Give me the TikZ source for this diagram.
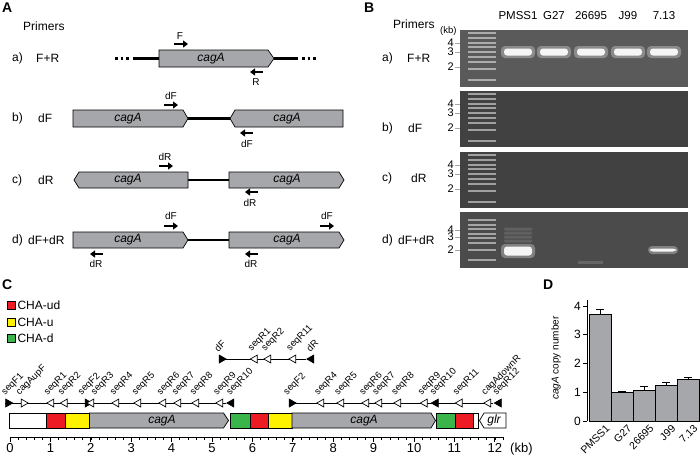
\documentclass[tikz,border=0pt]{standalone}
\usepackage{fontspec}
\setmainfont{Liberation Sans}
\usetikzlibrary{arrows.meta,positioning,shapes.geometric,backgrounds}
\definecolor{genegray}{HTML}{A5A7AA}
\definecolor{chared}{HTML}{ED1C24}
\definecolor{chayellow}{HTML}{FFF200}
\definecolor{chagreen}{HTML}{39B54A}
\definecolor{gelA}{HTML}{5A5A5A}
\definecolor{gelB}{HTML}{414141}
\definecolor{gelD}{HTML}{4B4B4B}

\begin{document}
\begin{tikzpicture}[
    x=1pt, y=-1pt,
    font=\fontsize{12}{14}\selectfont,
    panel/.style={font=\fontsize{14}{16}\selectfont\bfseries, inner sep=0, anchor=west},
    lbl/.style={inner sep=0, anchor=west},
    gene/.style={draw, fill=genegray, line width=0.7pt},
    gname/.style={font=\fontsize{12}{14}\selectfont\itshape, inner sep=0},
    link/.style={line width=2.2pt},
    dots/.style={line width=2.2pt, dash pattern=on 2.5pt off 3pt},
    primer/.style={line width=1.8pt, -{Triangle[length=5pt,width=7pt]}},
    pname/.style={font=\fontsize{10}{12}\selectfont, inner sep=0},
    ladder/.style={fill=white, opacity=0.5},
    glow/.style={fill=white, opacity=0.3, rounded corners=4pt},
    band/.style={fill=white, opacity=0.92, rounded corners=3pt},
    seg/.style={draw, line width=0.7pt},
    tri/.style={isosceles triangle, isosceles triangle stretches, draw, line width=0.7pt, inner sep=0, minimum width=8pt, minimum height=7pt},
    fwd/.style={tri, fill=black},
    fwdo/.style={tri, fill=white},
    rev/.style={tri, fill=white, shape border rotate=180},
    revf/.style={tri, fill=black, shape border rotate=180},
    seqlbl/.style={font=\fontsize{9.5}{11}\selectfont, inner sep=0, rotate=45, anchor=south west},
    bar/.style={draw, fill=genegray, line width=0.8pt}
  ]

  \useasboundingbox (0,0) rectangle (700,456);

  % ---------------- panel A ----------------
  \node[panel] (A) at (2,8) {A};
  \node[lbl] (primA) at (23,26) {Primers};
  \node[lbl] (Aa) at (12,58.5) {a)};   \node[lbl] (AaP) at (36,58.5) {F+R};
  \node[lbl] (Ab) at (12,118.5) {b)};  \node[lbl] (AbP) at (38,118.5) {dF};
  \node[lbl] (Ac) at (12,180) {c)};    \node[lbl] (AcP) at (38,180) {dR};
  \node[lbl] (Ad) at (12,240) {d)};    \node[lbl] (AdP) at (28,240) {dF+dR};

  % a) F+R
  \draw[dots] (115,58.5) -- (131,58.5);
  \draw[link] (133,58.5) -- (159,58.5);
  \draw[link] (274,58.5) -- (298,58.5);
  \draw[dots] (302,58.5) -- (318,58.5);
  \draw[gene] (159,50) -- (268,50) -- (274,58.5) -- (268,67) -- (159,67) -- cycle;
  \node[gname] (ga) at (211,58.5) {cagA};
  \draw[primer] (174,44) -- (188,44);
  \node[pname] (pF) at (180,36) {F};
  \draw[primer] (263,72) -- (250,72);
  \node[pname] (pR) at (256,82) {R};

  % b) dF
  \draw[link] (186,118.5) -- (232,118.5);
  \draw[gene] (73,110) -- (183,110) -- (188,118.5) -- (183,127) -- (73,127) -- cycle;
  \draw[gene] (235,110) -- (343,110) -- (343,127) -- (235,127) -- (230,118.5) -- cycle;
  \node[gname] (gb1) at (128,118.5) {cagA};
  \node[gname] (gb2) at (287,118.5) {cagA};
  \draw[primer] (164,105) -- (178,105);
  \node[pname] (pb1) at (171,96) {dF};
  \draw[primer] (253,133) -- (240,133);
  \node[pname] (pb2) at (247,144) {dF};

  % c) dR
  \draw[link] (188,180) -- (229,180);
  \draw[gene] (79,172) -- (188,172) -- (188,188) -- (79,188) -- (74,180) -- cycle;
  \draw[gene] (229,172) -- (339,172) -- (344,180) -- (339,188) -- (229,188) -- cycle;
  \node[gname] (gc1) at (128,180) {cagA};
  \node[gname] (gc2) at (287,180) {cagA};
  \draw[primer] (159,166) -- (173,166);
  \node[pname] (pc1) at (165,157) {dR};
  \draw[primer] (258,192) -- (245,192);
  \node[pname] (pc2) at (250,203) {dR};

  % d) dF+dR
  \draw[link] (188,240) -- (229,240);
  \draw[gene] (73,232) -- (183,232) -- (188,240) -- (183,248) -- (73,248) -- cycle;
  \draw[gene] (229,232) -- (339,232) -- (344,240) -- (339,248) -- (229,248) -- cycle;
  \node[gname] (gd1) at (128,240) {cagA};
  \node[gname] (gd2) at (287,240) {cagA};
  \draw[primer] (164,226) -- (178,226);
  \node[pname] (pd1) at (171,216) {dF};
  \draw[primer] (320,226) -- (334,226);
  \node[pname] (pd2) at (327,216) {dF};
  \draw[primer] (103,254) -- (90,254);
  \node[pname] (pd3) at (96,264) {dR};
  \draw[primer] (258,254) -- (245,254);
  \node[pname] (pd4) at (251,264) {dR};

  % ---------------- panel B ----------------
  \node[panel] (B) at (364,8) {B};
  \node[lbl] (primB) at (393,24) {Primers};
  \node[lbl, font=\fontsize{9.5}{11}\selectfont] (kbB) at (440,31) {(kb)};
  \node[lbl] (Ba) at (382,58) {a)};   \node[lbl] (BaP) at (407,58) {F+R};
  \node[lbl] (Bb) at (382,128) {b)};  \node[lbl] (BbP) at (408,128) {dF};
  \node[lbl] (Bc) at (382,178) {c)};  \node[lbl] (BcP) at (411,178) {dR};
  \node[lbl] (Bd) at (382,240) {d)};  \node[lbl] (BdP) at (398,240) {dF+dR};
  \foreach \cx/\n [count=\i] in {518/PMSS1,554/G27,591/26695,628/J99,664/7.13}
    \node[font=\fontsize{11.5}{13}\selectfont] (lane\i) at (\cx,16) {\n};

  % gels
  \fill[gelA] (460,30) rectangle (688,87);
  \fill[gelB] (460,91) rectangle (688,147);
  \fill[gelB] (460,152) rectangle (688,208);
  \fill[gelD] (460,212) rectangle (688,268);
  \foreach \top in {30,91,152}
    \foreach \o in {3,8,13,17,22,27,32,39,50}
      \fill[ladder] (468,{\top+\o-1.2}) rectangle (496,{\top+\o+1.2});
  \foreach \o in {8,13,17,22,26,31,38,48}
    \fill[ladder] (468,{212+\o-1.2}) rectangle (496,{212+\o+1.2});

  % size marks
  \foreach \y/\t in {43/4,52/3,67/2, 104/4,113/3,128/2, 165/4,174/3,189/2, 230/4,237/3,250/2} {
    \draw[gray!70, line width=0.6pt] (455,\y) -- (460,\y);
    \node[anchor=east, inner sep=0, font=\fontsize{11}{12}\selectfont] at (454,\y) {\t};
  }

  % bands
  \foreach \cx in {518,554,591,628,664} {
    \fill[glow] (\cx-17,46) rectangle (\cx+17,58);
    \fill[band] (\cx-14,48.5) rectangle (\cx+14,55.5);
  }
  \foreach \y in {229,233,237,241}
    \fill[white, opacity=0.12, rounded corners=1pt] (504,\y-1.5) rectangle (532,\y+1.5);
  \fill[glow] (501,244) rectangle (535,258);
  \fill[band] (504,246.5) rectangle (532,255.5);
  \fill[glow] (648,246) rectangle (678,254);
  \fill[band] (650,248.5) rectangle (676,251.5);
  \fill[white, opacity=0.15] (578,260.5) rectangle (603,263.5);

  % ---------------- panel C ----------------
  \node[panel] (C) at (2,285) {C};
  \node[seg, fill=chared, minimum size=8pt, inner sep=0] (kud) at (11,305.5) {};
  \node[lbl, right=2pt of kud] (tud) {CHA-ud};
  \node[seg, fill=chayellow, minimum size=8pt, inner sep=0] (ku) at (11,322) {};
  \node[lbl, right=2pt of ku] (tu) {CHA-u};
  \node[seg, fill=chagreen, minimum size=8pt, inner sep=0] (kd) at (11,338) {};
  \node[lbl, right=2pt of kd] (td) {CHA-d};

  % locus
  \draw[seg, fill=white] (9.5,413) rectangle (46.4,428);
  \draw[seg, fill=chared] (46.4,413) rectangle (65.8,428);
  \draw[seg, fill=chayellow] (65.8,413) rectangle (89.5,428);
  \draw[gene] (89.5,413) -- (223.5,413) -- (228.5,420.5) -- (223.5,428) -- (89.5,428) -- cycle;
  \node[gname] (gC1) at (162,420.5) {cagA};
  \draw[seg, fill=chagreen] (230.5,413) rectangle (250,428);
  \draw[seg, fill=chared] (250,413) rectangle (268.5,428);
  \draw[seg, fill=chayellow] (268.5,413) rectangle (292,428);
  \draw[gene] (292,413) -- (431,413) -- (435.5,420.5) -- (431,428) -- (292,428) -- cycle;
  \node[gname] (gC2) at (364,420.5) {cagA};
  \draw[seg, fill=chagreen] (436,413) rectangle (455,428);
  \draw[seg, fill=chared] (455,413) rectangle (473,428);
  \draw[seg, fill=white] (473,413) rectangle (478,428);
  \draw[seg, fill=white] (484,413) -- (506,413) -- (506,428) -- (484,428) -- (479.5,420.5) -- cycle;
  \node[gname] (glr) at (494,420.5) {glr};

  % primers on the locus
  \foreach \x/\n/\t/\dx in {8/seqF1/fwd/-1.5, 23.5/cagAupF/fwdo/-2.5, 51.5/seqR1/rev/-2.5, 65/seqR2/rev/-2,
      87.5/seqF2/fwd/-4.5, 91.5/seqR3/rev/4.5, 116.5/seqR4/rev/-1.5, 138.5/seqR5/rev/-1.5,
      163.5/seqR6/rev/-1.5, 178.5/seqR7/rev/-1.5, 196.5/seqR8/rev/-1.5, 220.5/seqR9/rev/-2, 231.5/seqR10/revf/0} {
    \node[\t] (r1-\n) at (\x,403) {};
    \node[seqlbl] at (\x+\dx,397) {\n};
  }
  \foreach \x/\n/\t/\dx in {221.5/dF/fwd/-3, 255/seqR1/rev/-2, 268.5/seqR2/rev/-2, 293.5/seqR11/rev/-2, 311.5/dR/revf/-1} {
    \node[\t] (r2-\n) at (\x,359) {};
    \node[seqlbl] at (\x+\dx,353) {\n};
  }
  \foreach \x/\n/\t/\dx in {291.5/seqF2/fwd/-3, 321.5/seqR4/rev/-2, 341.5/seqR5/rev/-2, 366.5/seqR6/rev/-2,
      379.5/seqR7/rev/-2, 398.5/seqR8/rev/-2, 425/seqR9/rev/-2, 436/seqR10/revf/-1, 460/seqR11/rev/-2,
      488.5/cagAdownR/rev/-2, 499/seqR12/revf/-1} {
    \node[\t] (r3-\n) at (\x,403) {};
    \node[seqlbl] at (\x+\dx,397) {\n};
  }
  \begin{scope}[on background layer]
    \draw[line width=0.8pt] (r1-seqF1.west) -- (r1-seqR10.west);
    \draw[line width=0.8pt] (r2-dF.west) -- (r2-dR.west);
    \draw[line width=0.8pt] (r3-seqF2.west) -- (r3-seqR12.west);
  \end{scope}

  % kb scale
  \draw[line width=0.7pt] (10,437) -- (504,437);
  \foreach \k in {0,...,61}
    \draw[line width=0.5pt] ({10+8.08*\k},437) -- ({10+8.08*\k},440);
  \foreach \k in {0,...,12} {
    \draw[line width=0.7pt] ({10+40.4*\k},437) -- ({10+40.4*\k},442);
    \node[font=\fontsize{13}{15}\selectfont, anchor=north, inner sep=0] (kb\k) at ({10+40.4*\k},443) {\k};
  }
  \node[lbl, font=\fontsize{13}{15}\selectfont, anchor=north west] (kbC) at (510,443) {(kb)};

  % ---------------- panel D ----------------
  \node[panel] (D) at (543,285) {D};
  \draw[line width=0.8pt] (587,300) -- (587,421);
  \foreach \v in {0,...,4} {
    \draw[line width=0.8pt] (583,{421-28.75*\v}) -- (587,{421-28.75*\v});
    \node[anchor=east, inner sep=0, font=\fontsize{12}{14}\selectfont] (yt\v) at (581,{421-28.75*\v}) {\v};
  }
  \node[rotate=90, font=\fontsize{10}{12}\selectfont] (ylab) at (556,358) {\textit{cagA} copy number};
  \foreach \n/\m/\e [count=\i from 0] in {PMSS1/3.72/3.87, G27/1.0/1.03, 26695/1.08/1.2, J99/1.25/1.33, 7.13/1.43/1.52} {
    \draw[line width=0.8pt] ({600+22*\i},{421-28.75*\m}) -- ({600+22*\i},{421-28.75*\e});
    \draw[line width=0.8pt] ({596+22*\i},{421-28.75*\e}) -- ({604+22*\i},{421-28.75*\e});
    \draw[bar] ({589+22*\i},421) rectangle ({611+22*\i},{421-28.75*\m});
    \node[rotate=45, anchor=north east, inner sep=0, font=\fontsize{10.5}{12}\selectfont] (bl\i) at ({605+22*\i},424) {\n};
  }
\end{tikzpicture}
\end{document}
